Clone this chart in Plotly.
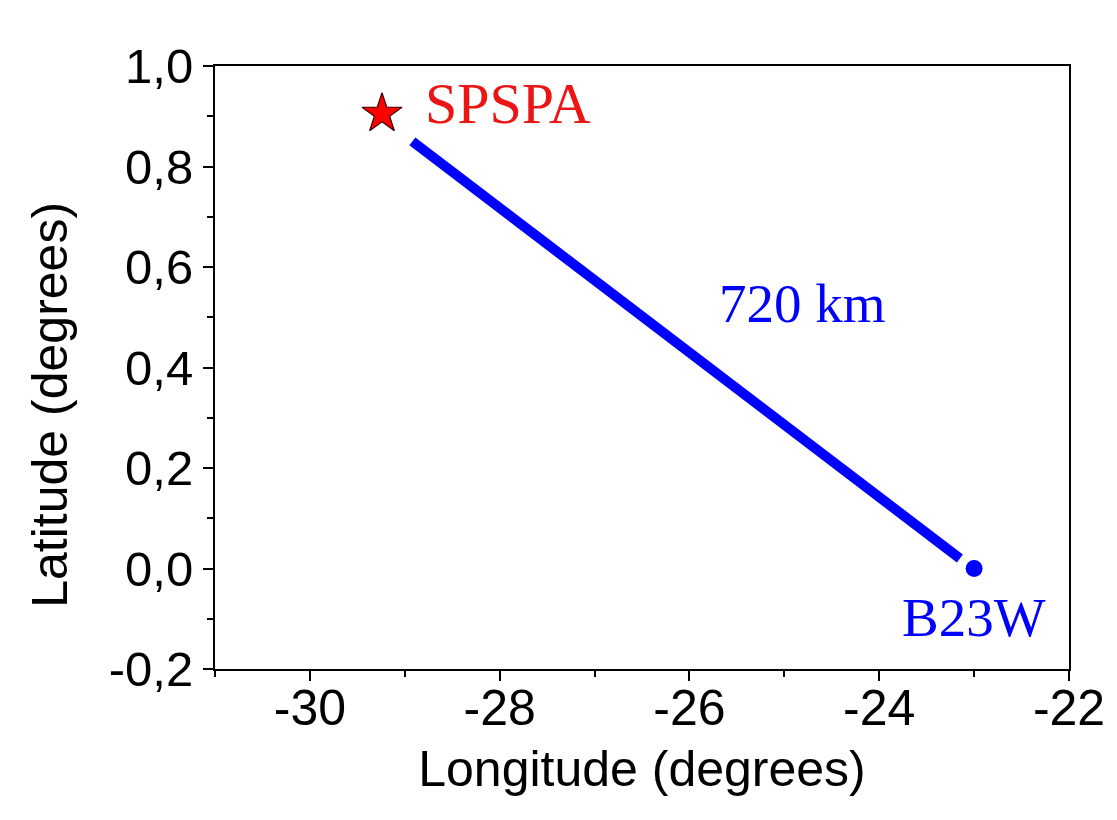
import plotly.graph_objects as go

# Data
site_names = ["SPSPA", "B23W"]
site_lon = [-29.24, -23.0]
site_lat = [0.905, 0.0]
path_lon = [-28.92, -23.15]
path_lat = [0.85, 0.02]
distance_label = "720 km"
distance_pos = [-24.81, 0.528]

x_tickvals = [-30, -28, -26, -24, -22]
x_ticktext = ["-30", "-28", "-26", "-24", "-22"]
y_tickvals = [1.0, 0.8, 0.6, 0.4, 0.2, 0.0, -0.2]
y_ticktext = ["1,0", "0,8", "0,6", "0,4", "0,2", "0,0", "-0,2"]

RED = "#ec1515"
BLUE = "#0000ff"
SERIF = "Liberation Serif"
SANS = "Liberation Sans"

fig = go.Figure()

fig.add_trace(go.Scatter(
    x=path_lon, y=path_lat, mode="lines",
    line=dict(color=BLUE, width=10), showlegend=False, hoverinfo="skip"))

fig.add_trace(go.Scatter(
    x=[site_lon[0]], y=[site_lat[0]], mode="markers",
    marker=dict(symbol="star", size=30, color="#ff0000",
                line=dict(color="#3a0000", width=1.2)),
    showlegend=False))

fig.add_trace(go.Scatter(
    x=[site_lon[1]], y=[site_lat[1]], mode="markers",
    marker=dict(symbol="circle", size=17, color=BLUE, line=dict(width=0)),
    showlegend=False))

fig.add_annotation(x=site_lon[0] + 0.43, y=site_lat[0] + 0.02, text=site_names[0],
                   showarrow=False, xanchor="left", yanchor="middle",
                   font=dict(family=SERIF, size=58, color=RED))
fig.add_annotation(x=distance_pos[0], y=distance_pos[1], text=distance_label,
                   showarrow=False, xanchor="center", yanchor="middle",
                   font=dict(family=SERIF, size=55, color=BLUE))
fig.add_annotation(x=site_lon[1], y=site_lat[1] - 0.097, text=site_names[1],
                   showarrow=False, xanchor="center", yanchor="middle",
                   font=dict(family=SERIF, size=55, color=BLUE))

# y-axis title as annotation (offset below plot centre as in reference)
fig.add_annotation(xref="paper", yref="paper", x=-0.1935, y=0.4378,
                   text="Latitude (degrees)", textangle=-90, showarrow=False,
                   xanchor="center", yanchor="middle",
                   font=dict(family=SANS, size=50, color="black"))

fig.update_layout(
    width=1117, height=820,
    margin=dict(l=215, r=44, t=66, b=151),
    paper_bgcolor="white", plot_bgcolor="white",
    font=dict(family=SANS, color="black"),
    xaxis=dict(
        range=[-31, -22], tickvals=x_tickvals, ticktext=x_ticktext,
        showgrid=False, zeroline=False,
        showline=True, linecolor="black", linewidth=2, mirror=True,
        ticks="outside", ticklen=10, tickwidth=2, tickcolor="black",
        ticklabelstandoff=-16,
        tickfont=dict(family=SANS, size=50),
        minor=dict(ticks="outside", ticklen=6, tickwidth=2, tickcolor="black",
                   tick0=-31, dtick=1),
        title=dict(text="Longitude (degrees)", font=dict(family=SANS, size=50),
                   standoff=16),
    ),
    yaxis=dict(
        range=[-0.2, 1.0], tickvals=y_tickvals, ticktext=y_ticktext,
        showgrid=False, zeroline=False,
        showline=True, linecolor="black", linewidth=2, mirror=True,
        ticks="outside", ticklen=10, tickwidth=2, tickcolor="black",
        tickfont=dict(family=SANS, size=49),
        minor=dict(ticks="outside", ticklen=6, tickwidth=2, tickcolor="black",
                   tick0=-0.1, dtick=0.2),
    ),
)

fig.write_html("out.html")
